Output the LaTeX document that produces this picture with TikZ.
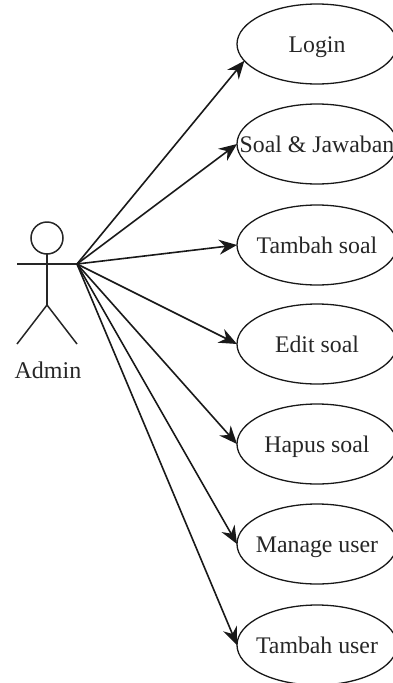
\documentclass[tikz,border=0pt]{standalone}
\usepackage{fontspec}
\setmainfont{Liberation Serif}
\usetikzlibrary{arrows.meta,shapes.geometric}
\tikzset{
  usecase/.style={draw=black!90,line width=1.3pt,ellipse,minimum width=160pt,minimum height=80pt,inner sep=0pt,outer sep=0pt,font=\fontsize{23.8}{27}\selectfont,text=black!85},
  actorline/.style={draw=black!85,line width=1.5pt},
  assoc/.style={draw=black!90,line width=1.6pt,-{Stealth[length=18pt,width=15pt,inset=6pt]}}
}
\newcommand{\uctext}[1]{\raisebox{-8.5pt}[0pt][0pt]{\makebox[0pt][c]{#1}}}
\begin{document}
\begin{tikzpicture}[x=1pt,y=-1pt]
\useasboundingbox (0,0) rectangle (393,683);
\clip (0,0) rectangle (393,683);
\node[usecase] (login) at (317,44) {\uctext{Login}};
\node[usecase] (soal) at (317,144) {\uctext{Soal \& Jawaban}};
\node[usecase] (tambahsoal) at (317,245) {\uctext{Tambah soal}};
\node[usecase] (edit) at (317,344) {\uctext{Edit soal}};
\node[usecase] (hapus) at (317,444) {\uctext{Hapus soal}};
\node[usecase] (manage) at (317,544) {\uctext{Manage user}};
\node[usecase] (tambahuser) at (317,645) {\uctext{Tambah user}};
\node[circle,actorline,minimum size=32pt,inner sep=0pt,outer sep=0pt] (head) at (47,238) {};
\coordinate (armL) at (17,264);
\coordinate (hand) at (77,264);
\coordinate (hip) at (47,305);
\coordinate (footL) at (17,344);
\coordinate (footR) at (77,344);
\draw[actorline] (head.south) -- (hip);
\draw[actorline] (armL) -- (hand);
\draw[actorline] (footL) -- (hip) -- (footR);
\node[font=\fontsize{24}{28}\selectfont,text=black!85,inner sep=0pt] (admin) at (48,370) {Admin};
\draw[assoc] (hand) -- (login.193);
\draw[assoc] (hand) -- (soal.west);
\draw[assoc] (hand) -- (tambahsoal.west);
\draw[assoc] (hand) -- (edit.west);
\draw[assoc] (hand) -- (hapus.west);
\draw[assoc] (hand) -- (manage.west);
\draw[assoc] (hand) -- (tambahuser.west);
\end{tikzpicture}
\end{document}
